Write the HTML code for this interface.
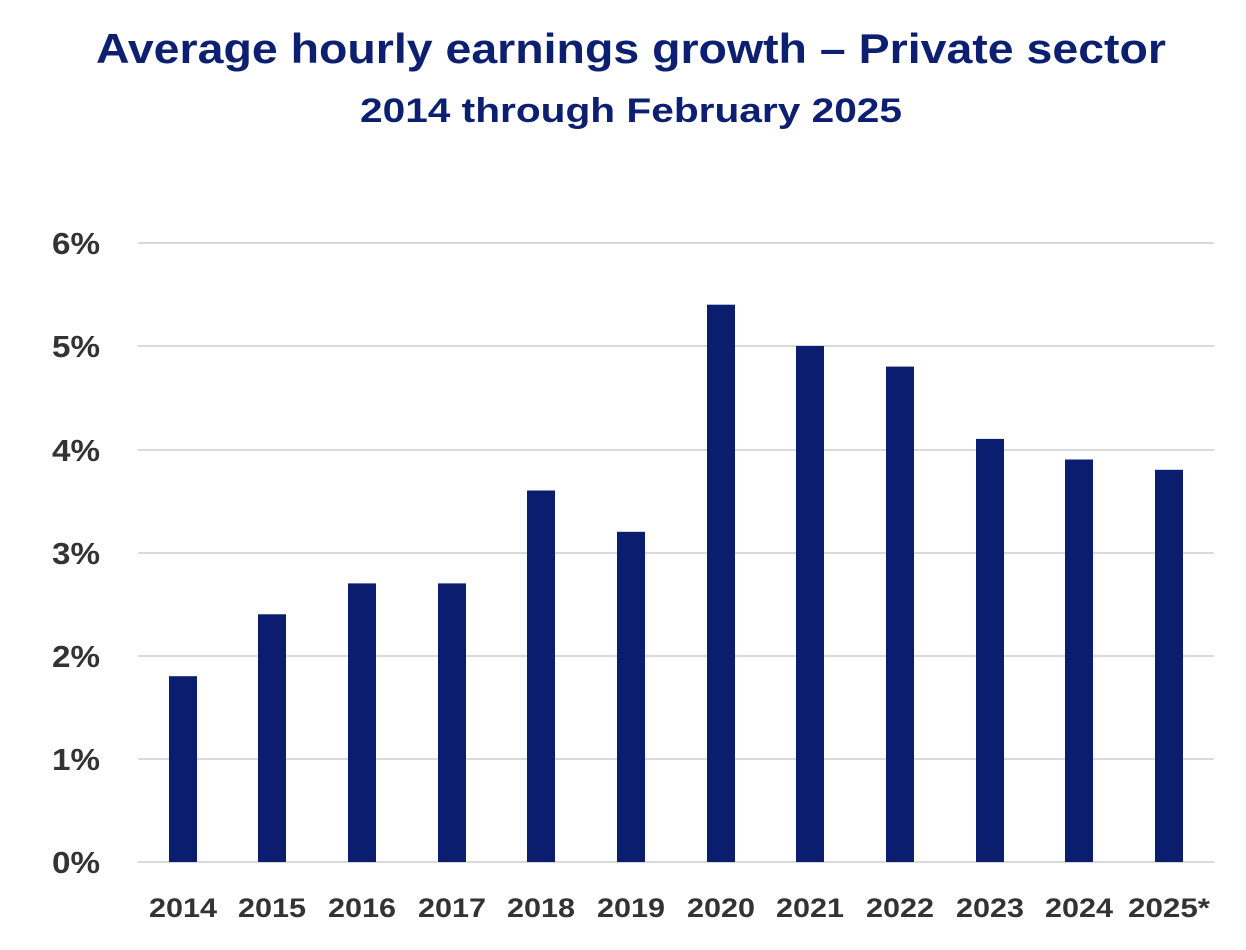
<!DOCTYPE html>
<html><head><meta charset="utf-8"><style>
html,body{margin:0;padding:0;background:#fff;}
svg{display:block;}
</style></head><body>
<svg width="1246" height="950" xmlns="http://www.w3.org/2000/svg" font-family="Liberation Sans, sans-serif" font-weight="bold">
<text x="96" y="63" font-size="42" fill="#0c1f70" textLength="1070" lengthAdjust="spacingAndGlyphs">Average hourly earnings growth – Private sector</text>
<text x="360" y="122" font-size="34" fill="#0c1f70" textLength="542" lengthAdjust="spacingAndGlyphs">2014 through February 2025</text>
<g stroke="#d9d9d9" stroke-width="2">
<line x1="138" x2="1214" y1="243" y2="243"/>
<line x1="138" x2="1214" y1="346" y2="346"/>
<line x1="138" x2="1214" y1="450" y2="450"/>
<line x1="138" x2="1214" y1="553" y2="553"/>
<line x1="138" x2="1214" y1="656" y2="656"/>
<line x1="138" x2="1214" y1="759" y2="759"/>
<line x1="138" x2="1214" y1="862" y2="862"/>
</g>
<g font-size="31" fill="#333">
<text x="52" y="254" textLength="48" lengthAdjust="spacingAndGlyphs">6%</text>
<text x="52" y="357" textLength="48" lengthAdjust="spacingAndGlyphs">5%</text>
<text x="52" y="461" textLength="48" lengthAdjust="spacingAndGlyphs">4%</text>
<text x="52" y="564" textLength="48" lengthAdjust="spacingAndGlyphs">3%</text>
<text x="52" y="667" textLength="48" lengthAdjust="spacingAndGlyphs">2%</text>
<text x="52" y="770" textLength="48" lengthAdjust="spacingAndGlyphs">1%</text>
<text x="52" y="873" textLength="48" lengthAdjust="spacingAndGlyphs">0%</text>
</g>
<g fill="#0a1d6f">
<rect x="169" y="676.2" width="28" height="185.8"/>
<rect x="258" y="614.3" width="28" height="247.7"/>
<rect x="348" y="583.4" width="28" height="278.6"/>
<rect x="438" y="583.4" width="28" height="278.6"/>
<rect x="527" y="490.5" width="28" height="371.5"/>
<rect x="617" y="531.8" width="28" height="330.2"/>
<rect x="707" y="304.7" width="28" height="557.3"/>
<rect x="796" y="346" width="28" height="516"/>
<rect x="886" y="366.6" width="28" height="495.4"/>
<rect x="976" y="438.9" width="28" height="423.1"/>
<rect x="1065" y="459.5" width="28" height="402.5"/>
<rect x="1155" y="469.8" width="28" height="392.2"/>
</g>
<g font-size="27" fill="#333" text-anchor="middle">
<text x="183" y="917" textLength="68" lengthAdjust="spacingAndGlyphs">2014</text>
<text x="272" y="917" textLength="68" lengthAdjust="spacingAndGlyphs">2015</text>
<text x="362" y="917" textLength="68" lengthAdjust="spacingAndGlyphs">2016</text>
<text x="452" y="917" textLength="68" lengthAdjust="spacingAndGlyphs">2017</text>
<text x="541" y="917" textLength="68" lengthAdjust="spacingAndGlyphs">2018</text>
<text x="631" y="917" textLength="68" lengthAdjust="spacingAndGlyphs">2019</text>
<text x="721" y="917" textLength="68" lengthAdjust="spacingAndGlyphs">2020</text>
<text x="810" y="917" textLength="68" lengthAdjust="spacingAndGlyphs">2021</text>
<text x="900" y="917" textLength="68" lengthAdjust="spacingAndGlyphs">2022</text>
<text x="990" y="917" textLength="68" lengthAdjust="spacingAndGlyphs">2023</text>
<text x="1079" y="917" textLength="68" lengthAdjust="spacingAndGlyphs">2024</text>
<text x="1169" y="917" textLength="82" lengthAdjust="spacingAndGlyphs">2025*</text>
</g>
</svg>
</body></html>
